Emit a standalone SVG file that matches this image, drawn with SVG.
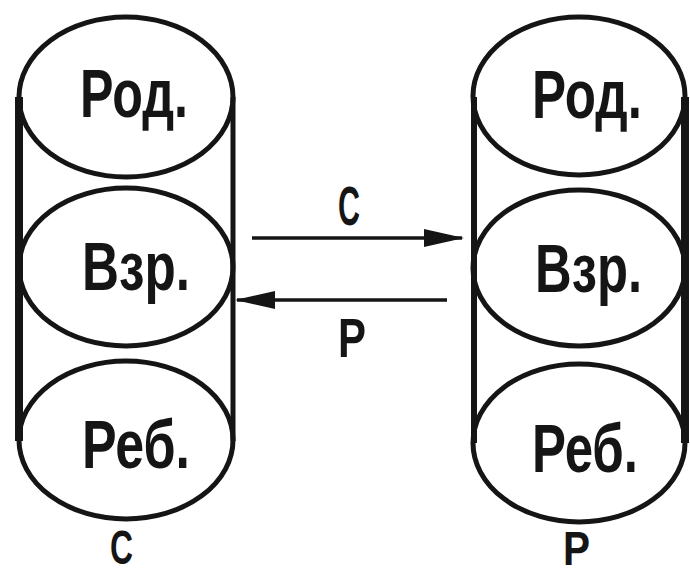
<svg xmlns="http://www.w3.org/2000/svg" width="690" height="576" viewBox="0 0 690 576">
<style>
.e{fill:none;stroke:#151515;stroke-width:5}
.v{stroke:#151515;fill:none}
.t{font-family:"Liberation Sans",Arial,sans-serif;font-weight:bold;fill:#151515}
.big{font-size:69px}
.sm{font-size:56px}
.bt{font-size:48px}
.ar{stroke:#151515;stroke-width:3.5;fill:none}
</style>
<defs>
<marker id="ah" viewBox="0 0 40 20" refX="38" refY="10" markerWidth="40" markerHeight="20" markerUnits="userSpaceOnUse" orient="auto">
<polygon points="0,1 40,10 0,19" fill="#151515"/>
</marker>
</defs>
<rect width="690" height="576" fill="#fff"/>
<g id="stackC">
<line class="v" x1="19" y1="97" x2="19" y2="441" stroke-width="8"/>
<line class="v" x1="233" y1="97" x2="233" y2="441" stroke-width="5"/>
</g>
<g id="stackP">
<line class="v" x1="474" y1="97" x2="474" y2="443" stroke-width="6"/>
<line class="v" x1="685" y1="97" x2="685" y2="443" stroke-width="8"/>
</g>
<g id="c-rod">
<ellipse class="e" cx="126" cy="97" rx="107" ry="80"/>
<text class="t big" x="80" y="117" textLength="108" lengthAdjust="spacingAndGlyphs">Род.</text>
</g>
<g id="c-vzr">
<ellipse class="e" cx="126" cy="267" rx="107" ry="79"/>
<text class="t big" x="82" y="290" textLength="108" lengthAdjust="spacingAndGlyphs">Взр.</text>
</g>
<g id="c-reb">
<ellipse class="e" cx="126" cy="440" rx="107" ry="79"/>
<text class="t big" x="82" y="468" textLength="108" lengthAdjust="spacingAndGlyphs">Реб.</text>
</g>
<g id="p-rod">
<ellipse class="e" cx="579" cy="96" rx="106" ry="79"/>
<text class="t big" x="532" y="118" textLength="110" lengthAdjust="spacingAndGlyphs">Род.</text>
</g>
<g id="p-vzr">
<ellipse class="e" cx="579" cy="268" rx="106" ry="78"/>
<text class="t big" x="535" y="292" textLength="107" lengthAdjust="spacingAndGlyphs">Взр.</text>
</g>
<g id="p-reb">
<ellipse class="e" cx="579" cy="443" rx="106" ry="79"/>
<text class="t big" x="532" y="472" textLength="106" lengthAdjust="spacingAndGlyphs">Реб.</text>
</g>
<g id="connectors">
<line class="ar" x1="252" y1="238" x2="462" y2="238" marker-end="url(#ah)"/>
<line class="ar" x1="447" y1="300" x2="237" y2="300" marker-end="url(#ah)"/>
</g>
<g id="labels">
<text class="t sm" x="338" y="225" textLength="22" lengthAdjust="spacingAndGlyphs">С</text>
<text class="t sm" x="338" y="357" textLength="28" lengthAdjust="spacingAndGlyphs">Р</text>
<text class="t bt" x="110" y="564" textLength="23" lengthAdjust="spacingAndGlyphs">С</text>
<text class="t bt" x="563" y="565" textLength="27" lengthAdjust="spacingAndGlyphs">Р</text>
</g>
</svg>
